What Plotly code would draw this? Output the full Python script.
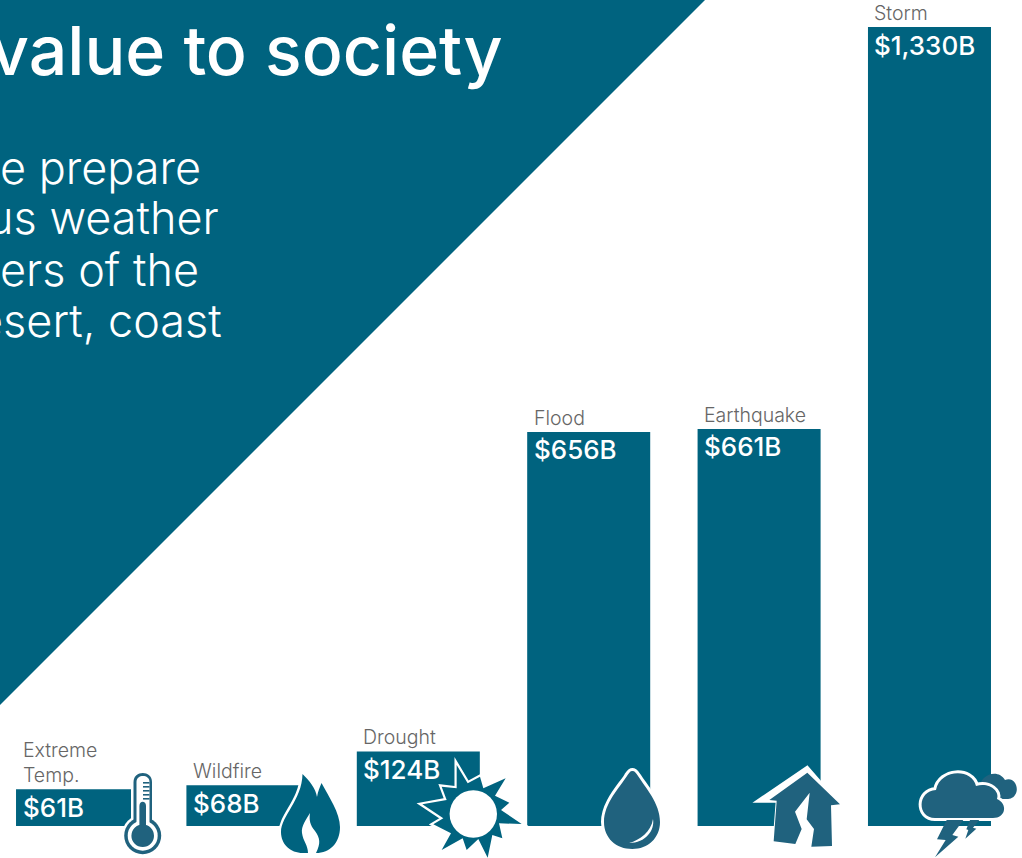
import re
import plotly.graph_objects as go

# Economic cost by hazard type, in billions of dollars
categories = ["Extreme<br>Temp.", "Wildfire", "Drought", "Flood", "Earthquake", "Storm"]
values = [61, 68, 124, 656, 661, 1330]

heading = "value to society"
body_lines = ["e prepare", "us weather", "ers of the", "esert, coast"]

W, H = 1022, 858
TEAL = "#00637f"
SLATE = "#20627e"
GREY = "#666666"
FONT = "Inter"


def px(path):
    """Convert an SVG path written in page pixels into paper coordinates."""
    tokens = re.findall(r"[A-Z]|-?\d+\.?\d*", path)
    out, is_x = [], True
    for tok in tokens:
        if tok.isalpha():
            out.append(tok)
            is_x = True
        elif is_x:
            out.append(f"{float(tok) / W:.5f}")
            is_x = False
        else:
            out.append(f"{1 - float(tok) / H:.5f}")
            is_x = True
    return " ".join(out)


def poly(points, ox=0, oy=0, k=1 / 3):
    """Closed polygon path from points measured on a 3x grid with origin (ox, oy)."""
    coords = [f"{ox + x * k:.2f} {oy + y * k:.2f}" for x, y in points]
    return "M " + " L ".join(coords) + " Z"


def shape(path, fill=SLATE, line="white", width=0):
    return dict(
        type="path", xref="paper", yref="paper", path=px(path), layer="above",
        fillcolor=fill, line=dict(color=line, width=width),
    )


def halo(path, fill=SLATE, width=3):
    """White keyline outside the icon: stroked copy below, clean fill on top."""
    return [shape(path, fill="white", line="white", width=width * 2), shape(path, fill=fill)]


def disc(cx, cy, r, fill):
    return dict(
        type="circle", xref="paper", yref="paper", layer="above",
        x0=(cx - r) / W, x1=(cx + r) / W, y0=1 - (cy + r) / H, y1=1 - (cy - r) / H,
        fillcolor=fill, line=dict(color=fill, width=0),
    )


shapes = []

# Diagonal header panel behind the heading
shapes.append(dict(
    type="path", xref="paper", yref="paper", layer="below",
    path=px("M 0 0 L 705 0 L 0 705 Z"), fillcolor=TEAL, line=dict(width=0),
))

# Thermometer
outer_tube = "M 133.5 825 L 133.5 782 C 133.5 770 152 770 152 782 L 152 825 Z"
shapes.append(shape(outer_tube, fill="white", line="white", width=5))
shapes.append(disc(142.7, 835.7, 21, "white"))
shapes.append(shape(outer_tube, fill=SLATE))
shapes.append(disc(142.7, 835.7, 18.5, SLATE))
shapes.append(disc(142.7, 835.7, 15, "white"))
shapes.append(shape("M 136.5 825 L 136.5 782 C 136.5 774 149.5 774 149.5 782 L 149.5 825 Z", fill="white"))
shapes.append(shape("M 139.4 830 L 139.4 806 C 139.4 800.5 146 800.5 146 806 L 146 830 Z"))
shapes.append(disc(142.7, 835.7, 11.3, SLATE))
for tick_y in (782, 786, 790, 794, 798):
    shapes.append(shape(f"M 143 {tick_y} L 149.5 {tick_y} L 149.5 {tick_y + 1.6} L 143 {tick_y + 1.6} Z"))

# Flame
flame = ("M 302.5 774 C 309 780 316 789 317 797 C 318 791 320 787 321.5 783 "
         "C 329 797 340 813 340 827 C 340 843 330 853 316 853 L 303 853 "
         "C 290 853 281 844 281 832 C 281 816 302 800 302.5 774 Z")
shapes.extend(halo(flame, fill=TEAL, width=2.5))
shapes.append(shape("M 310 813 C 306 820 301 826 302 833 C 303 841 308 845 308 853 L 316 853 "
                    "C 321 843 320 838 315 831 C 310 825 309 820 310 813 Z", fill="white"))

# Sun: spikes around a white disc
sun_rim = [(125, 30), (158, 85), (195, 65), (205, 100), (272, 70), (240, 122), (283, 143),
           (258, 165), (320, 207), (252, 205), (262, 250), (232, 240), (218, 308),
           (190, 252), (155, 285), (143, 250), (80, 285), (108, 235), (55, 208),
           (85, 190), (22, 148), (95, 135), (80, 95), (125, 100)]
shapes.extend(halo(poly(sun_rim, 415, 755), fill=TEAL, width=2.2))
shapes.append(disc(473.3, 814, 23.7, "white"))

# Water drop with a crescent highlight
drop = ("M 632.3 771 C 635 771 636 773 638 776 C 645 787 660 803 660 822 "
        "C 660 838 648 849 632.3 849 C 616 849 604 838 604 822 "
        "C 604 803 620 787 627 776 C 629 773 630 771 632.3 771 Z")
shapes.extend(halo(drop, fill=SLATE, width=3))
shapes.append(shape("M 653 819 C 655 830 646 843 629 843 C 640 840 651 832 653 819 Z", fill="white"))

# Cracked house on a white keyline that also shows through the crack
house_back = [(172, 20), (270, 133), (246, 136), (246, 260), (71, 244), (80, 125), (17, 125)]
house = [(172, 38), (270, 133), (243, 136), (246, 258), (184, 260), (192, 207),
         (170, 178), (179, 98), (135, 155), (155, 207), (136, 252), (71, 244),
         (80, 122), (58, 120)]
shapes.append(shape(poly(house_back, 750, 760), fill="white", line="white", width=2))
shapes.append(shape(poly(house, 750, 760), fill=SLATE))

# Storm clouds with two lightning bolts
back_cloud = ("M 978 790 C 980 774 998 768 1005 780 C 1014 776 1020 788 1015 795 "
              "C 1012 800 1006 799 1000 799 L 980 799 Z")
shapes.append(shape(back_cloud, fill=SLATE))
front_cloud = ("M 935 818 C 917 818 917 791 936 790 C 940 769 972 768 976 786 "
               "C 990 782 1000 792 997 799 C 1008 804 1006 818 993 818 Z")
shapes.extend(halo(front_cloud, fill=SLATE, width=3))
bolt_big = [(95, 180), (145, 180), (112, 225), (130, 230), (60, 292), (92, 240), (66, 238)]
bolt_small = [(165, 180), (193, 180), (174, 203), (184, 206), (151, 236), (160, 210), (154, 208)]
shapes.append(shape(poly(bolt_big, 915, 760), fill=SLATE))
shapes.append(shape(poly(bolt_small, 915, 760), fill=SLATE))

annotations = [dict(
    xref="paper", yref="paper", x=505 / W, y=1 - 50 / H, text=heading, showarrow=False,
    xanchor="right", yanchor="middle", font=dict(family=FONT, size=68, color="white", weight=500),
)]
body_right = [203, 221, 201, 224]
body_mid = [167, 218, 269, 320]
for line_text, right, mid in zip(body_lines, body_right, body_mid):
    annotations.append(dict(
        xref="paper", yref="paper", x=right / W, y=1 - mid / H, text=line_text, showarrow=False,
        xanchor="right", yanchor="middle", font=dict(family=FONT, size=45, color="white", weight=300),
    ))

# Hazard name above each bar and dollar value inside its top edge
LEFT_INSET = -57
for cat, val in zip(categories, values):
    annotations.append(dict(
        x=cat, y=val, xref="x", yref="y", text=cat, showarrow=False, align="left",
        xanchor="left", yanchor="bottom", xshift=LEFT_INSET, yshift=0,
        font=dict(family=FONT, size=19.5, color=GREY, weight=300),
    ))
    annotations.append(dict(
        x=cat, y=val, xref="x", yref="y", text=f"${val:,}B", showarrow=False,
        xanchor="left", yanchor="middle", xshift=LEFT_INSET, yshift=-18,
        font=dict(family=FONT, size=26, color="white", weight=500),
    ))

fig = go.Figure(go.Bar(x=categories, y=values, marker=dict(color=TEAL, line=dict(width=0)), hoverinfo="skip"))
fig.update_layout(
    width=W, height=H, autosize=False,
    margin=dict(l=0, r=0, t=0, b=0),
    paper_bgcolor="white", plot_bgcolor="rgba(0,0,0,0)",
    showlegend=False, bargap=0.278,
    shapes=shapes, annotations=annotations,
    xaxis=dict(visible=False, type="category", categoryorder="array", categoryarray=categories,
               range=[-0.455, 5.543]),
    yaxis=dict(visible=False, range=[-53.3, 1375]),
)
fig.write_html("out.html")
